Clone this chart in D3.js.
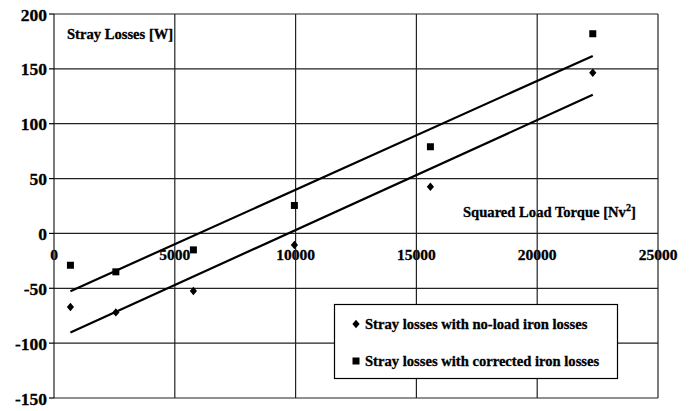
<!DOCTYPE html>
<html><head><meta charset="utf-8">
<script src="https://cdn.jsdelivr.net/npm/d3@7"></script>
<style>
body{margin:0;background:#fff}
text{font-family:"Liberation Serif","Times New Roman",serif;font-weight:700;fill:#000;stroke:#000;stroke-width:0.3px}
</style>
</head><body>
<svg id="c" width="694" height="411"></svg>
<script>
// Data
const torque    = [680, 2560, 5770, 9950, 15580, 22300];   // squared load torque [Nv^2]
const noLoad    = [-67, -72, -52.5, -10.5, 42.5, 146.5];   // stray losses with no-load iron losses [W]
const corrected = [-29, -35, -15, 25.5, 79, 182];          // stray losses with corrected iron losses [W]
const xTicks = [0, 5000, 10000, 15000, 20000, 25000];
const yTicks = [-150, -100, -50, 0, 50, 100, 150, 200];
const seriesNames = ["Stray losses with no-load iron losses", "Stray losses with corrected iron losses"];

const svg = d3.select("#c");
const x = d3.scaleLinear().domain([0, 25000]).range([54, 658]);
const y = d3.scaleLinear().domain([-150, 200]).range([398, 14]);

// y tick labels
svg.append("g").selectAll("text").data(yTicks).join("text")
  .attr("x", 47).attr("y", d => y(d) + 6.5)
  .attr("text-anchor", "end").style("font-size", "17.5px")
  .text(d => d);

// x tick labels (sitting under the zero line)
svg.append("g").selectAll("text").data(xTicks).join("text")
  .attr("x", d => x(d)).attr("y", y(0) + 26.5)
  .attr("text-anchor", "middle").style("font-size", "15.5px")
  .text(d => d);

// axis titles
svg.append("text").attr("x", 67).attr("y", 39).style("font-size", "14.6px").text("Stray Losses [W]");
const xt = svg.append("text").attr("x", 463).attr("y", 217).style("font-size", "14.6px");
xt.append("tspan").text("Squared Load Torque [Nv");
xt.append("tspan").attr("dy", -6).style("font-size", "10px").text("2");
xt.append("tspan").attr("dy", 6).text("]");

// grid
const g = svg.append("g");
g.selectAll("line.h").data(yTicks).join("line").attr("class", "h")
  .attr("x1", x(0)).attr("x2", x(25000)).attr("y1", d => y(d)).attr("y2", d => y(d))
  .attr("stroke", "#222").attr("stroke-width", 1.2);
g.selectAll("line.v").data(xTicks).join("line").attr("class", "v")
  .attr("x1", d => x(d)).attr("x2", d => x(d)).attr("y1", y(200)).attr("y2", y(-150))
  .attr("stroke", "#222").attr("stroke-width", 1.2);
// y ticks
g.selectAll("line.t").data(yTicks).join("line").attr("class", "t")
  .attr("x1", x(0) - 5).attr("x2", x(0)).attr("y1", d => y(d)).attr("y2", d => y(d))
  .attr("stroke", "#000").attr("stroke-width", 1.2);

// linear trend lines (least squares, as in the spreadsheet)
function fit(xs, ys) {
  const mx = d3.mean(xs), my = d3.mean(ys);
  let sxy = 0, sxx = 0;
  xs.forEach((v, i) => { sxy += (v - mx) * (ys[i] - my); sxx += (v - mx) * (v - mx); });
  const b = sxy / sxx, a = my - b * mx;
  const x0 = d3.min(xs), x1 = d3.max(xs);
  return [[x0, a + b * x0], [x1, a + b * x1]];
}
const line = d3.line().x(d => x(d[0])).y(d => y(d[1]));
[noLoad, corrected].forEach(s => {
  svg.append("path").attr("d", line(fit(torque, s)))
    .attr("fill", "none").attr("stroke", "#000").attr("stroke-width", 2.2);
});

// markers
function diamond(cx, cy) {
  const p = d3.path();
  p.moveTo(cx, cy - 4.2); p.lineTo(cx + 3.6, cy); p.lineTo(cx, cy + 4.2); p.lineTo(cx - 3.6, cy); p.closePath();
  return p.toString();
}
svg.append("g").selectAll("path").data(torque).join("path")
  .attr("d", (d, i) => diamond(x(d), y(noLoad[i]))).attr("fill", "#000");
svg.append("g").selectAll("rect").data(torque).join("rect")
  .attr("x", d => x(d) - 3.5).attr("y", (d, i) => y(corrected[i]) - 3.5)
  .attr("width", 7).attr("height", 7).attr("fill", "#000");

// legend
const lg = svg.append("g");
lg.append("rect").attr("x", 334.5).attr("y", 304.5).attr("width", 283).attr("height", 74)
  .attr("fill", "#fff").attr("stroke", "#000").attr("stroke-width", 1.2);
lg.append("path").attr("d", diamond(356, 324)).attr("fill", "#000");
lg.append("rect").attr("x", 352.5).attr("y", 357.5).attr("width", 7).attr("height", 7).attr("fill", "#000");
lg.append("text").attr("x", 365).attr("y", 329).style("font-size", "14.6px").text(seriesNames[0]);
lg.append("text").attr("x", 365).attr("y", 366).style("font-size", "14.6px").text(seriesNames[1]);
</script>
</body></html>
